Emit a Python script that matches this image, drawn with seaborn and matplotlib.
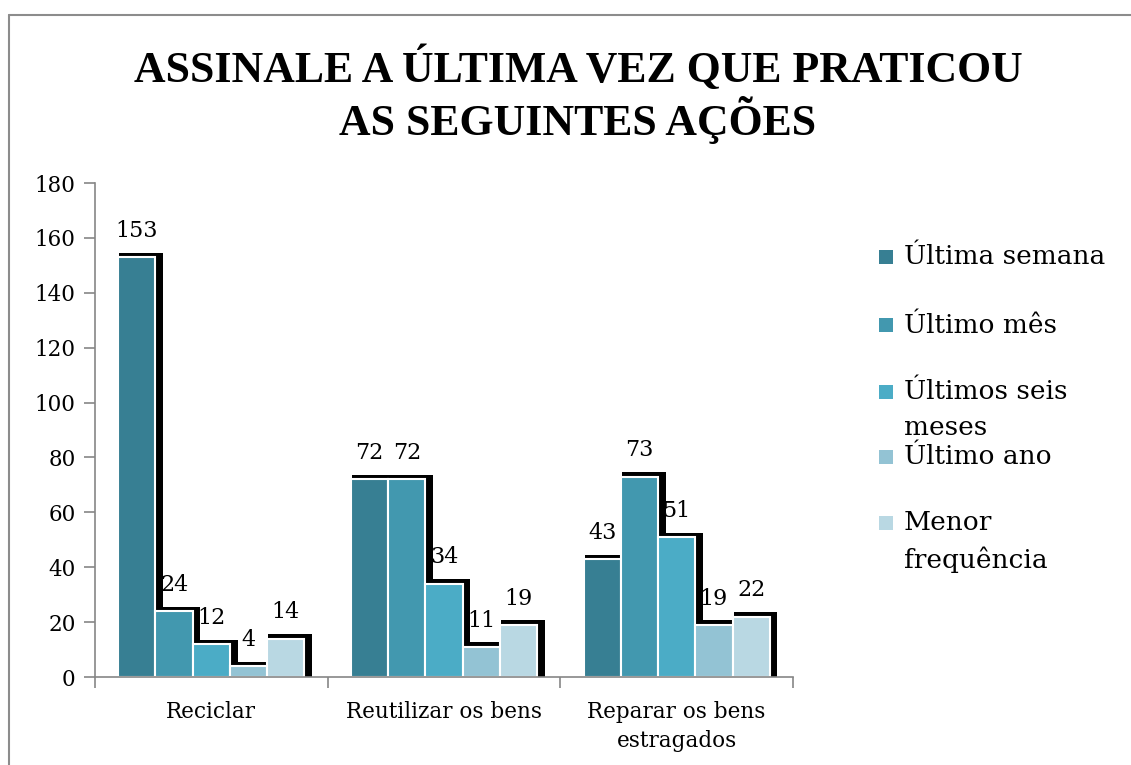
import pandas as pd
import matplotlib
matplotlib.use("Agg")
import matplotlib.pyplot as plt
from matplotlib.patches import Rectangle
from matplotlib.lines import Line2D
import seaborn as sns

# Data
ACOES = ["Reciclar", "Reutilizar os bens", "Reparar os bens\nestragados"]
PERIODOS = ["Última semana", "Último mês", "Últimos seis\nmeses", "Último ano", "Menor\nfrequência"]
ULTIMA_SEMANA = [153, 72, 43]
ULTIMO_MES = [24, 72, 73]
SEIS_MESES = [12, 34, 51]
ULTIMO_ANO = [4, 11, 19]
MENOR_FREQ = [14, 19, 22]
CORES = ["#377F93", "#4298AF", "#4BACC6", "#93C3D4", "#B9D8E3"]

series = [ULTIMA_SEMANA, ULTIMO_MES, SEIS_MESES, ULTIMO_ANO, MENOR_FREQ]
rows = []
for periodo, vals in zip(PERIODOS, series):
    for acao, v in zip(ACOES, vals):
        rows.append({"acao": acao, "periodo": periodo, "valor": v})
df = pd.DataFrame(rows)

sns.set_theme(style="white")
plt.rcParams["font.family"] = ["DejaVu Serif"]
GRAY = "#868686"

fig = plt.figure(figsize=(11.31, 7.65), dpi=100)
ax = fig.add_axes([95 / 1131, 1 - 677 / 765, (793 - 95) / 1131, (677 - 183) / 765])

sns.barplot(data=df, x="acao", y="valor", hue="periodo", order=ACOES,
            hue_order=PERIODOS, palette=CORES, saturation=1, width=0.8,
            edgecolor="white", linewidth=1.5, legend=False, ax=ax, zorder=2)

# black drop shadow behind every bar (offset right and up)
for cont in ax.containers:
    for bar in cont:
        x, w, h = bar.get_x(), bar.get_width(), bar.get_height()
        ax.add_patch(Rectangle((x + 0.005, 0), w + 0.028, h + 1.6,
                               facecolor="black", edgecolor="none", zorder=1))
    ax.bar_label(cont, padding=11, fontsize=16, color="black")

ax.set_xlim(-0.5, 2.5)
ax.set_ylim(0, 180)
ax.set_yticks(range(0, 181, 20))
ax.set_xlabel("")
ax.set_ylabel("")
ax.tick_params(axis="y", labelsize=15.5, labelcolor="black", length=8, width=1.2,
               color=GRAY, left=True, pad=6)
ax.tick_params(axis="x", which="major", labelsize=15.5, labelcolor="black",
               length=0, pad=17)
for t in ax.get_xticklabels():
    t.set_linespacing(1.45)
ax.set_xticks([-0.5, 0.5, 1.5, 2.5], minor=True)
ax.tick_params(axis="x", which="minor", length=8, width=1.2, color=GRAY,
               bottom=True, direction="out")
for s in ["top", "right"]:
    ax.spines[s].set_visible(False)
for s in ["left", "bottom"]:
    ax.spines[s].set_color(GRAY)
    ax.spines[s].set_linewidth(1.2)
    ax.spines[s].set_zorder(3)

fig.text(0.511, 1 - 95 / 765, "ASSINALE A ÚLTIMA VEZ QUE PRATICOU\nAS SEGUINTES AÇÕES",
         ha="center", va="center", fontsize=31.5, fontweight="bold",
         family=["Liberation Serif"], linespacing=1.12, color="black")

# legend drawn by hand to keep the original entry spacing
leg_y = [257, 325, 392, 457, 523]
for cor, lab, yy in zip(CORES, PERIODOS, leg_y):
    fig.add_artist(Rectangle((879 / 1131, 1 - (yy + 7) / 765), 14 / 1131, 14 / 765,
                             facecolor=cor, edgecolor="none", transform=fig.transFigure))
    if "\n" in lab:
        fig.text(904 / 1131, 1 - (yy - 13) / 765, lab, ha="left", va="top",
                 fontsize=19, linespacing=1.55, color="black")
    else:
        fig.text(904 / 1131, 1 - yy / 765, lab, ha="left", va="center",
                 fontsize=19, color="black")

# outer frame
fig.add_artist(Line2D([9 / 1131, 9 / 1131], [0, 1 - 15 / 765], color="#8c8c8c", lw=1.5,
                      transform=fig.transFigure))
fig.add_artist(Line2D([9 / 1131, 1], [1 - 15 / 765, 1 - 15 / 765], color="#8c8c8c", lw=1.5,
                      transform=fig.transFigure))

fig.savefig("out.png", dpi=100)
